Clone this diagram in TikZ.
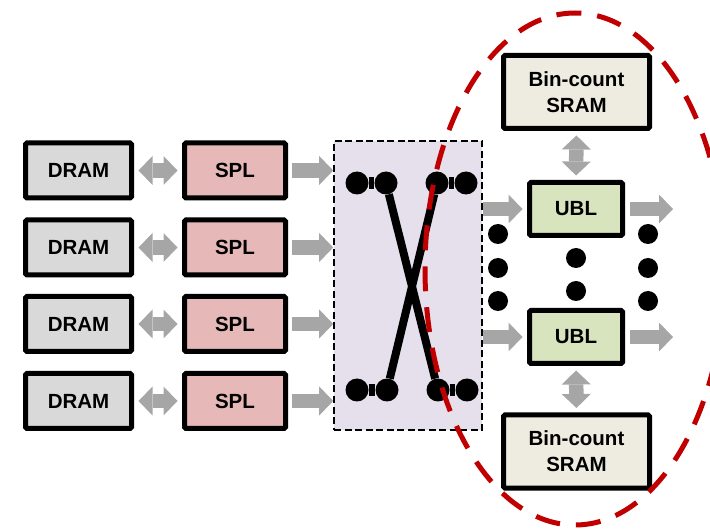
\documentclass[tikz,border=0pt]{standalone}
\usepackage{fontspec}
\setmainfont{Liberation Sans}[BoldFont={Liberation Sans Bold}]
\usetikzlibrary{arrows.meta}
\definecolor{dramfill}{HTML}{D9D9D9}
\definecolor{splfill}{HTML}{E6B9B8}
\definecolor{ublfill}{HTML}{D7E4BD}
\definecolor{sramfill}{HTML}{EEECE1}
\definecolor{xbarfill}{HTML}{E5E0EC}
\definecolor{flowgray}{HTML}{A6A6A6}
\definecolor{zonered}{HTML}{C00000}
\tikzset{
  flowtip/.tip={Triangle[length=14pt 0 0,width=29pt 0 0,line width=0pt 0 0,fill=flowgray]},
}
\begin{document}
\begin{tikzpicture}[x=1pt,y=-1pt,
  unit/.style={draw=black, line width=5pt, rounded corners=1.5pt, inner sep=0pt,
    font=\bfseries\fontsize{20.5}{26}\selectfont, align=center},
  drambox/.style={unit, fill=dramfill, minimum width=106pt, minimum height=55pt},
  splbox/.style={unit, fill=splfill, minimum width=101pt, minimum height=55pt},
  ublbox/.style={unit, fill=ublfill, minimum width=93pt, minimum height=53pt},
  srambox/.style={unit, fill=sramfill, minimum width=146pt, minimum height=73pt},
  xbarbox/.style={draw=black, fill=xbarfill, line width=1.6pt, dash pattern=on 7pt off 3.5pt,
    minimum width=148pt, minimum height=289pt, inner sep=0pt},
  flow/.style={draw=flowgray, line width=14.5pt, -flowtip},
  dflow/.style={draw=flowgray, line width=14.5pt, flowtip-flowtip},
  port/.style={circle, fill=black, minimum size=23pt, inner sep=0pt},
  etc/.style={circle, fill=black, minimum size=20pt, inner sep=0pt},
  wire/.style={line width=8pt},
  link/.style={line width=12pt},
]
\useasboundingbox (0,0) rectangle (710,529);

% memory channels: DRAM and SPL units
\foreach \i/\y in {1/170.5, 2/247.5, 3/324, 4/401} {
  \node[drambox] (dram\i) at (78.5,\y) {DRAM};
  \node[splbox]  (spl\i)  at (235,\y) {SPL};
}

% crossbar
\node[xbarbox] (xbar) at (408,285.5) {};

% links between DRAM, SPL and crossbar
\foreach \i in {1,...,4} {
  \draw[dflow, shorten <=4.5pt, shorten >=4.5pt] (dram\i.east) -- (spl\i.west);
  \draw[flow, shorten <=3.5pt] (spl\i.east) -- (xbar.west |- spl\i.east);
}

% crossbar ports
\node[port] (pa) at (357,183) {};
\node[port] (pb) at (386,183) {};
\node[port] (pc) at (437,183) {};
\node[port] (pd) at (466,183) {};
\node[port] (pe) at (357,390) {};
\node[port] (pf) at (387,390) {};
\node[port] (pg) at (438,390) {};
\node[port] (ph) at (467,390) {};
\draw[link] (pa) -- (pb);
\draw[link] (pc) -- (pd);
\draw[link] (pe) -- (pf);
\draw[link] (pg) -- (ph);
\draw[wire] (pb) -- (pg);
\draw[wire] (pc) -- (pf);

% UBL units and bin-count SRAMs
\node[srambox] (sram1) at (576.5,92) {Bin-count\\SRAM};
\node[ublbox]  (ubl1)  at (576,209) {UBL};
\node[ublbox]  (ubl2)  at (576,337) {UBL};
\node[srambox] (sram2) at (576.5,451.5) {Bin-count\\SRAM};

\coordinate (out1) at (673,209);
\coordinate (out2) at (673,337);

\draw[dflow, shorten <=4.5pt, shorten >=4.5pt] (sram1.south) -- (ubl1.north);
\draw[dflow, shorten <=4.5pt, shorten >=4.5pt] (ubl2.south) -- (sram2.north);
\draw[flow, shorten >=4.5pt] (xbar.east |- ubl1.west) -- (ubl1.west);
\draw[flow, shorten >=4.5pt] (xbar.east |- ubl2.west) -- (ubl2.west);
\draw[flow, shorten <=4.5pt] (ubl1.east) -- (out1);
\draw[flow, shorten <=4.5pt] (ubl2.east) -- (out2);

% ellipsis dots between the UBL rows
\node[etc] (e1) at (498,234) {};
\node[etc] (e2) at (498,268) {};
\node[etc] (e3) at (498,301) {};
\node[etc] (e4) at (576,258) {};
\node[etc] (e5) at (576,291) {};
\node[etc] (e6) at (648,234) {};
\node[etc] (e7) at (648,268) {};
\node[etc] (e8) at (648,301) {};

% on-chip region
\draw[zonered, line width=5pt, dash pattern=on 25pt off 16pt, dash phase=10pt]
  (575,269) ellipse [x radius=150pt, y radius=256pt];
\end{tikzpicture}
\end{document}
